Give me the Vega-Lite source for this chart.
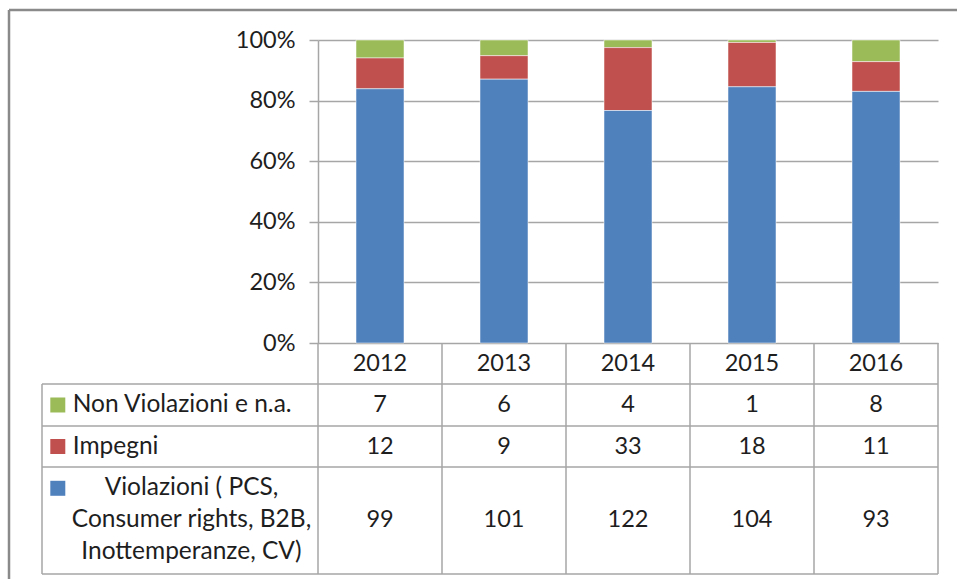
{
  "$schema": "https://vega.github.io/schema/vega-lite/v6.json",
  "width": 620,
  "height": 303,
  "autosize": {"type": "none"},
  "padding": {"left": 318, "top": 40, "right": 19, "bottom": 236},
  "background": "white",
  "config": {
    "view": {"stroke": null},
    "text": {"font": "Lato", "fontSize": 23.5, "color": "#1e1e1e", "baseline": "middle"},
    "rule": {"color": "#a6a6a6", "strokeWidth": 1.5},
    "axis": {"labelFont": "Lato"}
  },
  "datasets": {
    "main": [
      {"year": 2012, "cat": "Non Violazioni e n.a.", "n": 7},
      {"year": 2012, "cat": "Impegni", "n": 12},
      {"year": 2012, "cat": "Violazioni ( PCS, Consumer rights, B2B, Inottemperanze, CV)", "n": 99},
      {"year": 2013, "cat": "Non Violazioni e n.a.", "n": 6},
      {"year": 2013, "cat": "Impegni", "n": 9},
      {"year": 2013, "cat": "Violazioni ( PCS, Consumer rights, B2B, Inottemperanze, CV)", "n": 101},
      {"year": 2014, "cat": "Non Violazioni e n.a.", "n": 4},
      {"year": 2014, "cat": "Impegni", "n": 33},
      {"year": 2014, "cat": "Violazioni ( PCS, Consumer rights, B2B, Inottemperanze, CV)", "n": 122},
      {"year": 2015, "cat": "Non Violazioni e n.a.", "n": 1},
      {"year": 2015, "cat": "Impegni", "n": 18},
      {"year": 2015, "cat": "Violazioni ( PCS, Consumer rights, B2B, Inottemperanze, CV)", "n": 104},
      {"year": 2016, "cat": "Non Violazioni e n.a.", "n": 8},
      {"year": 2016, "cat": "Impegni", "n": 11},
      {"year": 2016, "cat": "Violazioni ( PCS, Consumer rights, B2B, Inottemperanze, CV)", "n": 93}
    ],
    "one": [{}]
  },
  "data": {"name": "main"},
  "resolve": {"axis": {"x": "independent", "y": "independent"}},
  "layer": [
    {
      "data": {"name": "one"},
      "mark": {"type": "rule", "color": "#8a8a8a", "strokeWidth": 2.5},
      "encoding": {
        "x": {"datum": 2009.0081, "axis": null},
        "x2": {"datum": 2025},
        "y": {"datum": 1.099, "axis": null}
      }
    },
    {
      "data": {"name": "one"},
      "mark": {"type": "rule", "color": "#8a8a8a", "strokeWidth": 2.5},
      "encoding": {
        "x": {"datum": 2009.0081, "axis": null},
        "y": {"datum": -3, "axis": null},
        "y2": {"datum": 1.099}
      }
    },
    {
      "transform": [
        {"calculate": "indexof(['Violazioni ( PCS, Consumer rights, B2B, Inottemperanze, CV)', 'Impegni', 'Non Violazioni e n.a.'], datum.cat)", "as": "k"}
      ],
      "mark": {"type": "bar", "width": 48, "stroke": "#ffffff", "strokeOpacity": 0.5, "strokeWidth": 1},
      "encoding": {
        "x": {
          "field": "year", "type": "quantitative",
          "scale": {"domain": [2011.5, 2016.5], "nice": false, "zero": false, "padding": 0},
          "axis": null
        },
        "y": {
          "field": "n", "type": "quantitative", "stack": "normalize",
          "scale": {"domain": [0, 1], "nice": false, "zero": false},
          "axis": {"values": [0, 0.2, 0.4, 0.6, 0.8, 1], "format": ".0%", "title": null, "grid": true, "gridColor": "#a6a6a6", "gridWidth": 1.5, "domainColor": "#a6a6a6", "domainWidth": 1.5, "tickColor": "#a6a6a6", "tickWidth": 1.5, "tickSize": 9, "labelFontSize": 23.5, "labelColor": "#1e1e1e", "labelPadding": 14, "labelFont": "Lato"}
        },
        "color": {
          "field": "cat", "type": "nominal",
          "scale": {"domain": ["Violazioni ( PCS, Consumer rights, B2B, Inottemperanze, CV)", "Impegni", "Non Violazioni e n.a."], "range": ["#4F81BD", "#C0504D", "#9BBB59"]},
          "legend": null
        },
        "order": {"field": "k", "type": "quantitative"}
      }
    },
    {"data": {"name": "one"}, "mark": "rule", "encoding": {"x": {"datum": 2011.5, "axis": null}, "y": {"datum": 0, "axis": null}, "y2": {"datum": -0.7624}}},
    {"data": {"name": "one"}, "mark": "rule", "encoding": {"x": {"datum": 2012.5, "axis": null}, "y": {"datum": 0, "axis": null}, "y2": {"datum": -0.7624}}},
    {"data": {"name": "one"}, "mark": "rule", "encoding": {"x": {"datum": 2013.5, "axis": null}, "y": {"datum": 0, "axis": null}, "y2": {"datum": -0.7624}}},
    {"data": {"name": "one"}, "mark": "rule", "encoding": {"x": {"datum": 2014.5, "axis": null}, "y": {"datum": 0, "axis": null}, "y2": {"datum": -0.7624}}},
    {"data": {"name": "one"}, "mark": "rule", "encoding": {"x": {"datum": 2015.5, "axis": null}, "y": {"datum": 0, "axis": null}, "y2": {"datum": -0.7624}}},
    {"data": {"name": "one"}, "mark": "rule", "encoding": {"x": {"datum": 2016.5, "axis": null}, "y": {"datum": 0, "axis": null}, "y2": {"datum": -0.7624}}},
    {"data": {"name": "one"}, "mark": "rule", "encoding": {"x": {"datum": 2009.2742, "axis": null}, "y": {"datum": -0.1353, "axis": null}, "y2": {"datum": -0.7624}}},
    {"data": {"name": "one"}, "mark": "rule", "encoding": {"x": {"datum": 2009.2742, "axis": null}, "x2": {"datum": 2016.5}, "y": {"datum": -0.1353, "axis": null}}},
    {"data": {"name": "one"}, "mark": "rule", "encoding": {"x": {"datum": 2009.2742, "axis": null}, "x2": {"datum": 2016.5}, "y": {"datum": -0.2739, "axis": null}}},
    {"data": {"name": "one"}, "mark": "rule", "encoding": {"x": {"datum": 2009.2742, "axis": null}, "x2": {"datum": 2016.5}, "y": {"datum": -0.4092, "axis": null}}},
    {"data": {"name": "one"}, "mark": "rule", "encoding": {"x": {"datum": 2009.2742, "axis": null}, "x2": {"datum": 2016.5}, "y": {"datum": -0.7624, "axis": null}}},
    {
      "transform": [{"filter": "datum.cat === 'Impegni'"}],
      "mark": {"type": "text"},
      "encoding": {
        "x": {"field": "year", "type": "quantitative", "axis": null},
        "y": {"datum": -0.0677, "axis": null},
        "text": {"field": "year", "type": "quantitative", "format": "d"}
      }
    },
    {
      "transform": [{"filter": "datum.cat === 'Non Violazioni e n.a.'"}],
      "mark": {"type": "text"},
      "encoding": {
        "x": {"field": "year", "type": "quantitative", "axis": null},
        "y": {"datum": -0.2046, "axis": null},
        "text": {"field": "n", "type": "quantitative"}
      }
    },
    {
      "transform": [{"filter": "datum.cat === 'Impegni'"}],
      "mark": {"type": "text"},
      "encoding": {
        "x": {"field": "year", "type": "quantitative", "axis": null},
        "y": {"datum": -0.3416, "axis": null},
        "text": {"field": "n", "type": "quantitative"}
      }
    },
    {
      "transform": [{"filter": "datum.cat === 'Violazioni ( PCS, Consumer rights, B2B, Inottemperanze, CV)'"}],
      "mark": {"type": "text"},
      "encoding": {
        "x": {"field": "year", "type": "quantitative", "axis": null},
        "y": {"datum": -0.5858, "axis": null},
        "text": {"field": "n", "type": "quantitative"}
      }
    },
    {
      "transform": [{"filter": "datum.year === 2012 && datum.cat === 'Non Violazioni e n.a.'"}],
      "mark": {"type": "point", "shape": "square", "filled": true, "size": 225, "opacity": 1},
      "encoding": {
        "x": {"datum": 2009.4016, "axis": null},
        "y": {"datum": -0.2046, "axis": null},
        "color": {"field": "cat", "type": "nominal", "legend": null}
      }
    },
    {
      "transform": [{"filter": "datum.year === 2012 && datum.cat === 'Impegni'"}],
      "mark": {"type": "point", "shape": "square", "filled": true, "size": 225, "opacity": 1},
      "encoding": {
        "x": {"datum": 2009.4016, "axis": null},
        "y": {"datum": -0.3416, "axis": null},
        "color": {"field": "cat", "type": "nominal", "legend": null}
      }
    },
    {
      "transform": [{"filter": "datum.year === 2012 && datum.cat === 'Violazioni ( PCS, Consumer rights, B2B, Inottemperanze, CV)'"}],
      "mark": {"type": "point", "shape": "square", "filled": true, "size": 225, "opacity": 1},
      "encoding": {
        "x": {"datum": 2009.4016, "axis": null},
        "y": {"datum": -0.4795, "axis": null},
        "color": {"field": "cat", "type": "nominal", "legend": null}
      }
    },
    {
      "transform": [{"filter": "datum.year === 2012 && datum.cat === 'Non Violazioni e n.a.'"}],
      "mark": {"type": "text", "align": "left", "fontSize": 24.5},
      "encoding": {
        "x": {"datum": 2009.5218, "axis": null},
        "y": {"datum": -0.2046, "axis": null},
        "text": {"field": "cat", "type": "nominal"}
      }
    },
    {
      "transform": [{"filter": "datum.year === 2012 && datum.cat === 'Impegni'"}],
      "mark": {"type": "text", "align": "left", "fontSize": 24.5},
      "encoding": {
        "x": {"datum": 2009.5218, "axis": null},
        "y": {"datum": -0.3416, "axis": null},
        "text": {"field": "cat", "type": "nominal"}
      }
    },
    {
      "data": {"name": "one"},
      "mark": {"type": "text", "align": "center", "lineHeight": 32, "fontSize": 24.5},
      "encoding": {
        "x": {"datum": 2010.4798, "axis": null},
        "y": {"datum": -0.4795, "axis": null},
        "text": {"value": ["Violazioni ( PCS,", "Consumer rights, B2B,", "Inottemperanze, CV)"]}
      }
    }
  ]
}
